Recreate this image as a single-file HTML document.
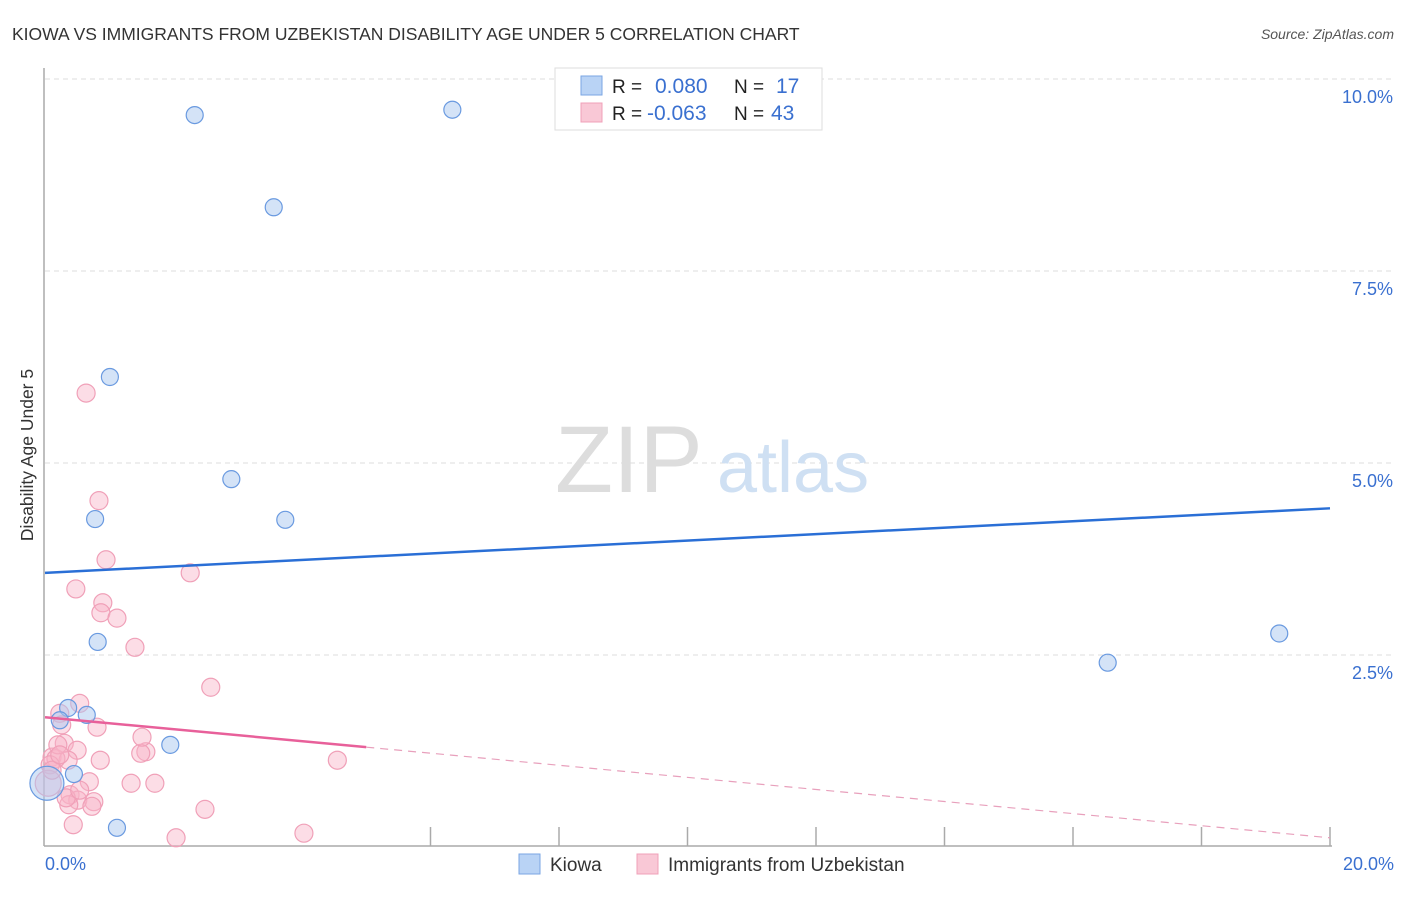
<!DOCTYPE html>
<html><head><meta charset="utf-8"><style>
body{margin:0;background:#fff;font-family:"Liberation Sans",sans-serif;}
svg text{font-family:"Liberation Sans",sans-serif;}
</style></head><body>
<svg id="chart" width="1406" height="892" xmlns="http://www.w3.org/2000/svg">
<text x="12" y="40" font-size="17.5" fill="#333">KIOWA VS IMMIGRANTS FROM UZBEKISTAN DISABILITY AGE UNDER 5 CORRELATION CHART</text>
<text x="1394" y="39" font-size="14" fill="#555" font-style="italic" text-anchor="end">Source: ZipAtlas.com</text>
<g id="grid"></g>
<text x="555" y="492" font-size="95" fill="#ddd" font-family="Liberation Serif">ZIP</text>
<text x="717" y="492" font-size="72" fill="#cfe0f3">atlas</text>
<line x1="44" y1="68" x2="44" y2="846" stroke="#aaa" stroke-width="1.5"/>
<line x1="44" y1="846" x2="1332" y2="846" stroke="#aaa" stroke-width="1.5"/>
<g id="ticks"></g>
<g id="pink"></g>
<g id="blue"></g>
<g id="lines"></g>
<text x="33" y="455" font-size="17.5" fill="#333" text-anchor="middle" transform="rotate(-90 33 455)">Disability Age Under 5</text>
<text x="45" y="870" font-size="18" fill="#3a70d0">0.0%</text>
<text x="1394" y="870" font-size="18" fill="#3a70d0" text-anchor="end">20.0%</text>
<g>
<rect x="555" y="68" width="267" height="62" fill="#fff" stroke="#ddd"/>
<rect x="581" y="76" width="21" height="19" fill="#b9d3f5" stroke="#7aa6e3"/>
<rect x="581" y="103" width="21" height="19" fill="#f9c8d6" stroke="#f0a0b8"/>
<text x="612" y="93" font-size="19" fill="#222">R = </text><text x="655" y="93" font-size="21" fill="#3a70d0">0.080</text>
<text x="734" y="93" font-size="19" fill="#222">N = </text><text x="776" y="93" font-size="21" fill="#3a70d0">17</text>
<text x="612" y="120" font-size="19" fill="#222">R = </text><text x="647" y="120" font-size="21" fill="#3a70d0">-0.063</text>
<text x="734" y="120" font-size="19" fill="#222">N = </text><text x="771" y="120" font-size="21" fill="#3a70d0">43</text>
</g>
<g>
<rect x="519" y="854" width="21" height="20" fill="#b9d3f5" stroke="#7aa6e3"/>
<text x="550" y="871" font-size="19" fill="#333">Kiowa</text>
<rect x="637" y="854" width="21" height="20" fill="#f9c8d6" stroke="#f0a0b8"/>
<text x="668" y="871" font-size="19" fill="#333">Immigrants from Uzbekistan</text>
</g>
</svg>
<script>
const yTicks=[2.5,5.0,7.5,10.0];
const xTickVals=[6,8,10,12,14,16,18,20];
const blueX=[2.33,6.34,3.56,1.01,2.90,0.78,3.74,0.82,16.54,19.21,0.36,0.65,1.95,0.45,1.12,0.03,0.23];
const blueY=[9.53,9.60,8.33,6.12,4.79,4.27,4.26,2.67,2.40,2.78,1.81,1.72,1.33,0.95,0.25,0.83,1.65];
const pinkX=[0.64,0.84,0.95,2.26,0.48,0.90,0.87,1.12,1.40,2.58,0.54,0.23,0.81,0.26,0.30,1.57,1.49,0.11,1.51,0.50,0.36,0.17,0.08,0.69,1.34,1.71,0.39,0.51,0.76,0.37,0.73,2.49,0.44,2.04,4.03,4.55,0.05,0.11,0.20,0.23,0.33,0.54,0.86];
const pinkY=[5.91,4.51,3.74,3.57,3.36,3.18,3.05,2.98,2.60,2.08,1.87,1.74,1.56,1.59,1.35,1.24,1.22,1.17,1.43,1.26,1.13,1.15,1.07,0.85,0.83,0.83,0.68,0.61,0.59,0.55,0.53,0.49,0.29,0.12,0.18,1.13,0.83,1.00,1.33,1.20,0.64,0.74,1.13];
const blueTrend=[3.57,4.41];
const pinkTrend=[1.69,1.30,0.12];
const X=v=>45+v*64.25, Y=v=>847-v*76.8;
const NS='http://www.w3.org/2000/svg';
function mk(p,tag,a){const e=document.createElementNS(NS,tag);for(const k in a)e.setAttribute(k,a[k]);document.getElementById(p).appendChild(e);return e;}
yTicks.forEach(t=>{
 const l=mk('grid','line',{x1:45,x2:1392,y1:Y(t),y2:Y(t),stroke:'#ddd','stroke-dasharray':'5,4'});
 
 
 const tx=mk('grid','text',{x:1393,y:Y(t)+24,'font-size':18,fill:'#3a70d0','text-anchor':'end'});
 tx.textContent=t.toFixed(1)+'%';
 
 
});
xTickVals.forEach(t=>{
 const l=mk('ticks','line',{x1:X(t),x2:X(t),y1:827,y2:846,stroke:'#aaa','stroke-width':1.5});
 
 
});
pinkX.forEach((x,i)=>{
 const r=(i==36)?13:9;
 const c=mk('pink','circle',{cx:X(x),cy:Y(pinkY[i]),r:r,fill:'rgba(248,180,200,0.45)',stroke:'#f0a0b8','stroke-width':1.2});
 
 
});
blueX.forEach((x,i)=>{
 const r=(i==15)?17:8.5;
 const c=mk('blue','circle',{cx:X(x),cy:Y(blueY[i]),r:r,fill:'rgba(170,200,240,0.5)',stroke:'#6a9ae0','stroke-width':1.2});
 
 
});
const bl=mk('lines','line',{x1:X(0),y1:Y(blueTrend[0]),x2:X(20),y2:Y(blueTrend[1]),stroke:'#2a6fd6','stroke-width':2.5});


const pl=mk('lines','line',{x1:X(0),y1:Y(pinkTrend[0]),x2:X(5),y2:Y(pinkTrend[1]),stroke:'#e8609a','stroke-width':2.5});


const pd=mk('lines','line',{x1:X(5),y1:Y(pinkTrend[1]),x2:X(20),y2:Y(pinkTrend[2]),stroke:'#e8a0bc','stroke-width':1.2,'stroke-dasharray':'8,6'});


</script>
</body></html>
